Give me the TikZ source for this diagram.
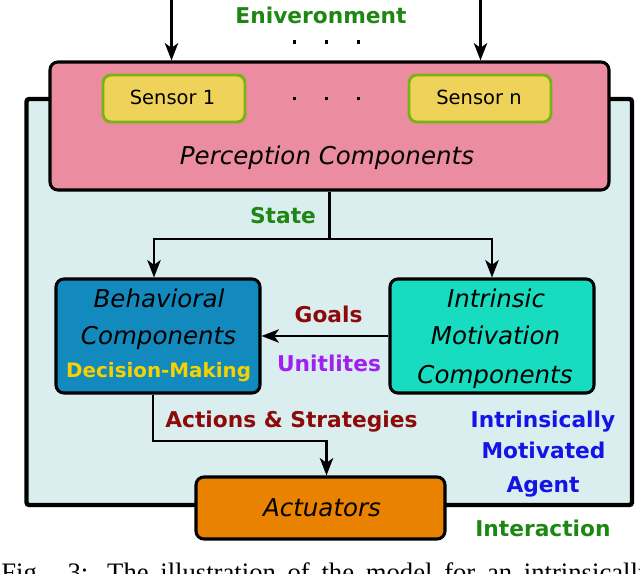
\documentclass[tikz,border=0pt]{standalone}
\usepackage{fontspec}
\setmainfont{DejaVu Sans}[ItalicFont={DejaVu Sans Oblique},BoldFont={DejaVu Sans Bold}]
\newfontfamily\capfont{Liberation Serif}
\usetikzlibrary{arrows.meta}
\definecolor{envgreen}{RGB}{30,135,20}
\definecolor{darkred}{RGB}{140,10,10}
\definecolor{purp}{RGB}{160,32,240}
\definecolor{agentblue}{RGB}{20,20,230}
\definecolor{dmyellow}{RGB}{245,210,0}
\definecolor{pinkfill}{RGB}{236,140,160}
\definecolor{bgfill}{RGB}{218,238,240}
\definecolor{sensfill}{RGB}{238,210,90}
\definecolor{sensdraw}{RGB}{120,180,20}
\definecolor{behfill}{RGB}{19,138,190}
\definecolor{intfill}{RGB}{24,220,192}
\definecolor{actfill}{RGB}{232,130,0}
\begin{document}
\begin{tikzpicture}[x=0.75pt,y=-0.75pt,
  box/.style={draw=black, line width=2.3pt, rounded corners=6pt, inner sep=0pt},
  lbl/.style={font=\bfseries\fontsize{16.3}{19}\selectfont, anchor=base, inner sep=0pt},
  itxt/.style={font=\itshape\fontsize{18.4}{22}\selectfont, anchor=base, inner sep=0pt},
  stxt/.style={font=\fontsize{14.6}{17}\selectfont, anchor=base, inner sep=0pt},
  ln/.style={draw=black, line width=1.9pt},
  arr/.style={ln, -{Stealth[length=13pt,width=10pt,inset=3.5pt]}},
  dotnode/.style={rectangle, fill=black, inner sep=0pt, minimum size=2.6pt}
]
\useasboundingbox (0,0) rectangle (640,574);
\clip (0,0) rectangle (640,574);

% agent background
\node[draw=black, line width=3.3pt, fill=bgfill, rounded corners=2pt, inner sep=0pt,
      minimum width=454.1pt, minimum height=304.5pt] (agent) at (329.25,302) {};

% perception
\node[box, fill=pinkfill, minimum width=419.25pt, minimum height=96pt] (pink) at (329.5,126) {};
\node[box, draw=sensdraw, line width=2.2pt, fill=sensfill, minimum width=106.5pt, minimum height=35.25pt] (s1) at (174,98.5) {};
\node[box, draw=sensdraw, line width=2.2pt, fill=sensfill, minimum width=106.5pt, minimum height=35.25pt] (sn) at (480,98.5) {};
\node[stxt] (s1t) at (172.5,105) {Sensor 1};
\node[stxt] (snt) at (479,105) {Sensor n};
\node[dotnode] (md1) at (294.7,98.5) {};
\node[dotnode] (md2) at (326.5,98.5) {};
\node[dotnode] (md3) at (358.4,98.5) {};
\node[itxt] (perc) at (327,165) {Perception Components};

% environment
\node[lbl, text=envgreen] (env) at (321,24) {Eniveronment};
\node[dotnode] (td1) at (294.7,42) {};
\node[dotnode] (td2) at (326.5,42) {};
\node[dotnode] (td3) at (358.4,42) {};
\coordinate (e1) at (171.5,0);
\coordinate (en) at (480.5,0);
\draw[arr] (e1) -- (e1 |- pink.north);
\draw[arr] (en) -- (en |- pink.north);

% behavioral & intrinsic
\node[box, fill=behfill, minimum width=153pt, minimum height=85.5pt] (behav) at (158,336) {};
\node[box, fill=intfill, minimum width=153pt, minimum height=85.5pt] (intr) at (492,336) {};
\node[itxt] (b1) at (159,308) {Behavioral};
\node[itxt] (b2) at (158.5,345) {Components};
\node[lbl, text=dmyellow, font=\bfseries\fontsize{14.9}{17}\selectfont] (dm) at (158.6,378) {Decision-Making};
\node[itxt] (i1) at (496,308) {Intrinsic};
\node[itxt] (i2) at (495.5,345) {Motivation};
\node[itxt] (i3) at (495,383) {Components};

% state
\node[lbl, text=envgreen] (state) at (283,224) {State};
\coordinate (split) at (329.5,239);
\draw[ln] (pink.south) -- (split);
\draw[arr] (split) -| ([xshift=-3pt]behav.north);
\draw[arr] (split) -| (intr.north);

% goals
\draw[arr] (intr.west) -- (behav.east);
\node[lbl, text=darkred] (goals) at (328.6,323) {Goals};
\node[lbl, text=purp] (util) at (329,372) {Unitlites};

% actuators
\node[box, fill=actfill, minimum width=186.75pt, minimum height=46.5pt] (act) at (320.5,508) {};
\node[itxt] (actt) at (322,517) {Actuators};
\coordinate (ac) at (153,441);
\draw[arr] (behav.south -| ac) -- (ac) -| ([xshift=4.5pt]act.north);
\node[lbl, text=darkred] (acts) at (291.5,427) {Actions \& Strategies};

% agent labels
\node[lbl, text=agentblue] (ag1) at (543,427) {Intrinsically};
\node[lbl, text=agentblue] (ag2) at (543.5,459) {Motivated};
\node[lbl, text=agentblue] (ag3) at (543,493) {Agent};
\node[lbl, text=envgreen] (inter) at (543,537) {Interaction};

% caption (cut off at the bottom edge, as in the reference)
\node[anchor=base west, inner sep=0pt, font=\capfont\fontsize{20}{24}\selectfont] (cap) at (1,581)
  {\makebox[650\dimexpr0.75pt\relax][s]{Fig. 3: The illustration of the model for an intrinsically}};
\end{tikzpicture}
\end{document}
